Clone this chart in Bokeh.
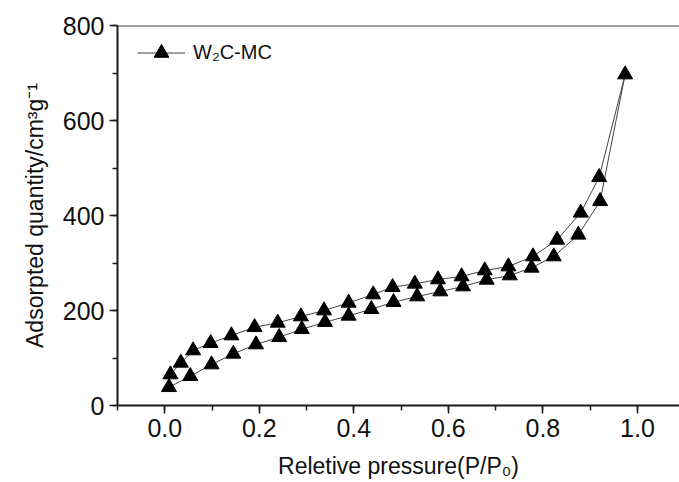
from bokeh.plotting import figure
from bokeh.models import (Range1d, SingleIntervalTicker, Legend, LegendItem, Span,
                          ColumnDataSource, CustomJSTickFormatter)
from bokeh.embed import file_html
from bokeh.resources import INLINE

# Adsorption branch (lower), P/P0 and quantity (cm3/g)
p_ads = [0.009, 0.054, 0.099, 0.145, 0.193, 0.242, 0.290, 0.339, 0.389, 0.437, 0.484,
         0.534, 0.583, 0.631, 0.681, 0.730, 0.776, 0.823, 0.875, 0.921, 0.974]
q_ads = [38.5, 61.7, 86.3, 108.8, 128.4, 143.8, 160.6, 175.4, 188.8, 202.7, 217.5,
         229.5, 240.0, 250.5, 264.6, 273.7, 289.9, 313.7, 359.4, 430.1, 696.8]
# Desorption branch (upper), from high to low pressure
p_des = [0.919, 0.880, 0.830, 0.779, 0.727, 0.677, 0.628, 0.578, 0.529, 0.482, 0.441,
         0.389, 0.337, 0.288, 0.239, 0.190, 0.141, 0.097, 0.060, 0.034, 0.012]
q_des = [480.6, 405.7, 348.8, 313.7, 292.6, 284.2, 271.6, 265.3, 256.2, 249.1, 233.7,
         216.2, 200.0, 187.4, 174.1, 164.8, 147.4, 131.2, 115.8, 89.9, 65.3]

series_name = "W\u2082C-MC"
x_title = "Reletive pressure(P/P\u2080)"
y_title = "Adsorpted quantity/cm\u00b3g\u207b\u00b9"

FONT = "Liberation Sans"

p = figure(width=679, height=482, output_backend="svg", toolbar_location=None,
           x_range=Range1d(-0.1, 1.089), y_range=Range1d(0, 800),
           min_border_left=117, min_border_right=0, min_border_top=25,
           min_border_bottom=77)
p.outline_line_color = None
p.xgrid.visible = False
p.ygrid.visible = False
p.background_fill_color = "white"
p.border_fill_color = "white"

src = ColumnDataSource(dict(x=p_ads + p_des, y=q_ads + q_des))
ln = p.line("x", "y", source=src, line_color="#444444", line_width=1)
sc = p.scatter("x", "y", source=src, marker="triangle", size=15,
               fill_color="black", line_color="black")

p.add_layout(Span(location=800, dimension="width", line_color="#444444", line_width=2))

for ax in (p.xaxis[0], p.yaxis[0]):
    ax.axis_line_color = "#1a1a1a"
    ax.axis_line_width = 2
    ax.major_tick_line_color = "#1a1a1a"
    ax.minor_tick_line_color = "#1a1a1a"
    ax.major_tick_line_width = 1.5
    ax.minor_tick_line_width = 1.5
    ax.major_tick_in = 0
    ax.major_tick_out = 8
    ax.minor_tick_in = 0
    ax.minor_tick_out = 5
    ax.major_label_text_font = FONT
    ax.major_label_text_font_size = "25px"
    ax.major_label_text_color = "#111111"
    ax.axis_label_text_font = FONT
    ax.axis_label_text_font_size = "23px"
    ax.axis_label_text_font_style = "normal"
    ax.axis_label_text_color = "#111111"

p.xaxis.ticker = SingleIntervalTicker(interval=0.2, num_minor_ticks=2)
p.yaxis.ticker = SingleIntervalTicker(interval=200, num_minor_ticks=2)
p.xaxis.formatter = CustomJSTickFormatter(code="return tick.toFixed(1);")
p.xaxis.axis_label = x_title
p.yaxis.axis_label = y_title
p.xaxis.major_label_standoff = 5
p.xaxis.axis_label_standoff = 13
p.yaxis.major_label_standoff = 5
p.yaxis.axis_label_standoff = 12

legend = Legend(items=[LegendItem(label=series_name, renderers=[ln, sc])],
                location=(20, 334), glyph_width=48, glyph_height=37,
                label_text_font=FONT, label_text_font_size="20px",
                label_text_color="#111111", border_line_color=None,
                background_fill_alpha=0, margin=0, padding=0, spacing=0,
                label_standoff=8)
p.add_layout(legend)

open("out.html", "w").write(file_html(p, INLINE))
